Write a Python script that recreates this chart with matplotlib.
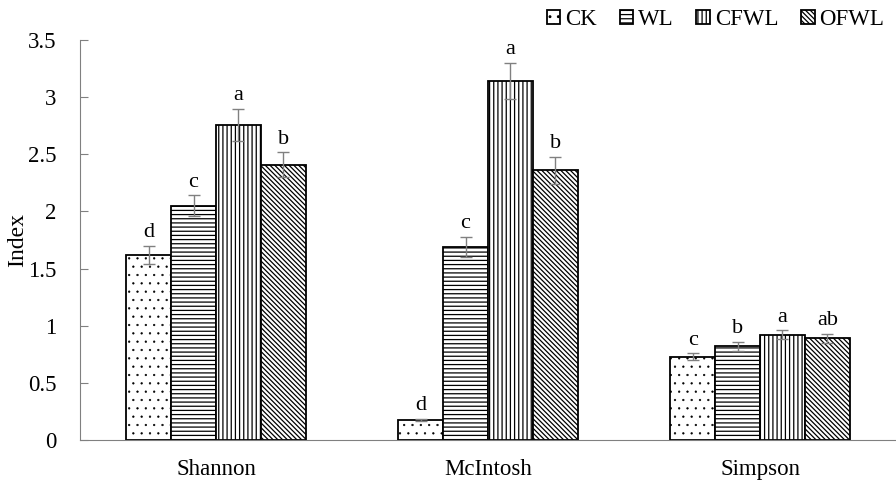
import matplotlib.pyplot as plt
import numpy as np

plt.rcParams['font.family'] = ['Liberation Serif', 'DejaVu Serif']
plt.rcParams['hatch.linewidth'] = 0.9
plt.rcParams['hatch.color'] = 'black'

groups = ['Shannon', 'McIntosh', 'Simpson']
treatments = ['CK', 'WL', 'CFWL', 'OFWL']
values = {
    'CK': [1.62, 0.175, 0.73],
    'WL': [2.05, 1.69, 0.82],
    'CFWL': [2.76, 3.14, 0.92],
    'OFWL': [2.41, 2.36, 0.89],
}
errors = {
    'CK': [0.08, 0.01, 0.03],
    'WL': [0.09, 0.09, 0.04],
    'CFWL': [0.14, 0.16, 0.04],
    'OFWL': [0.11, 0.12, 0.04],
}
letters = {
    'CK': ['d', 'd', 'c'],
    'WL': ['c', 'c', 'b'],
    'CFWL': ['a', 'a', 'a'],
    'OFWL': ['b', 'b', 'ab'],
}
hatches = ['..', '----', '||||', '\\' * 7]
hatch_lw = [0.4, 0.9, 0.9, 0.9]

fig = plt.figure(figsize=(8.96, 4.83), dpi=100)
ax = fig.add_axes([80/896, 43/483, 816/896, 400/483])

x = np.arange(len(groups))
w = 0.165
for i, t in enumerate(treatments):
    pos = x + (i - 1.5) * w
    with plt.rc_context({'hatch.linewidth': hatch_lw[i]}):
        ax.bar(pos, values[t], w, color='white', edgecolor='black', linewidth=1.3,
               hatch=hatches[i], label=t, zorder=2)
    ax.errorbar(pos, values[t], yerr=errors[t], fmt='none', ecolor='#808080',
                elinewidth=1, capsize=4, capthick=1, zorder=3)
    for p, v, e, l in zip(pos, values[t], errors[t], letters[t]):
        ax.text(p, v + e + 0.03, l, ha='center', va='bottom', fontsize=16)

ax.set_xlim(-0.5, 2.5)
ax.set_ylim(0, 3.5)
ax.set_yticks(np.arange(0, 3.51, 0.5))
ax.set_yticklabels(['0', '0.5', '1', '1.5', '2', '2.5', '3', '3.5'])
ax.set_xticks(x)
ax.set_xticklabels(groups)
ax.tick_params(axis='y', direction='in', length=6, labelsize=16.5, color='#808080', pad=17)
ax.tick_params(axis='x', length=0, labelsize=16.5, pad=14)
for s in ['top', 'right']:
    ax.spines[s].set_visible(False)
ax.spines['left'].set_color('#808080')
ax.spines['bottom'].set_color('#808080')
ax.set_ylabel('Index', fontsize=17, va='center')
ax.yaxis.set_label_coords(-0.076, 0.5)

ax.legend(loc='upper right', bbox_to_anchor=(0.997, 1.1), ncol=4, frameon=False,
          fontsize=16.5, handlelength=0.6, handleheight=0.6, handletextpad=0.2,
          columnspacing=1.0, borderaxespad=0)

fig.savefig('out.png', dpi=100)
